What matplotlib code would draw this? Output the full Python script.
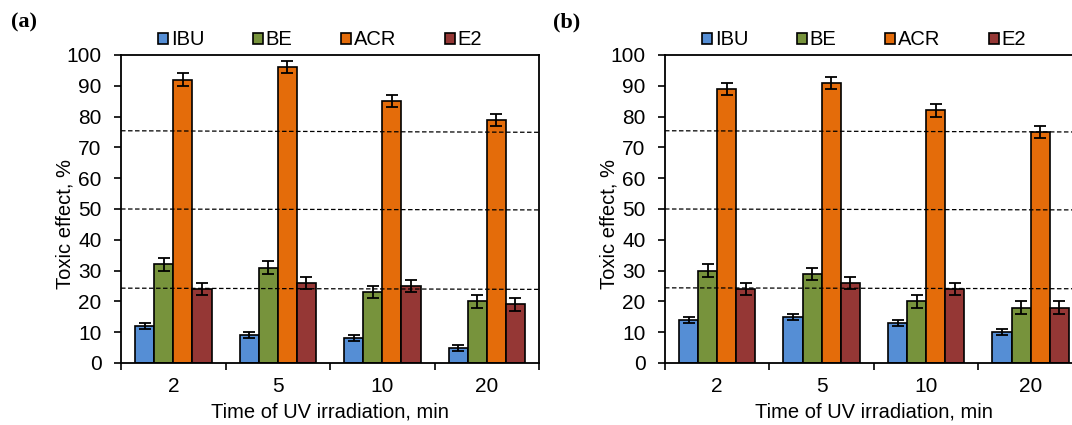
import numpy as np
import matplotlib
matplotlib.use('Agg')
import matplotlib.pyplot as plt
from matplotlib.patches import Patch

plt.rcParams['font.family'] = ['Liberation Sans', 'DejaVu Sans']

# ข้อมูลจากกราฟ
times = ['2', '5', '10', '20']
series = ['IBU', 'BE', 'ACR', 'E2']
colors = ['#558ED5', '#77933C', '#E46C0A', '#953735']

vals_a = {'IBU': [12, 9, 8, 5], 'BE': [32, 31, 23, 20],
          'ACR': [92, 96, 85, 79], 'E2': [24, 26, 25, 19]}
vals_b = {'IBU': [14, 15, 13, 10], 'BE': [30, 29, 20, 18],
          'ACR': [89, 91, 82, 75], 'E2': [24, 26, 24, 18]}
err_a = {'IBU': [1, 1, 1, 1], 'BE': [2, 2, 2, 2],
         'ACR': [2, 2, 2, 2], 'E2': [2, 2, 2, 2]}
err_b = {'IBU': [1, 1, 1, 1], 'BE': [2, 2, 2, 2],
         'ACR': [2, 2, 2, 2], 'E2': [2, 2, 2, 2]}

# เส้นประ (ค่าซ้าย, ค่าขวา)
dash_a = [(75.4, 74.9), (50.0, 49.7), (24.3, 23.9)]
dash_b = [(75.4, 75.0), (50.0, 49.7), (24.4, 24.1)]

fig = plt.figure(figsize=(10.72, 4.25), dpi=100)
ax1 = fig.add_axes([0.1129, 0.1459, 0.3899, 0.7247])
ax2 = fig.add_axes([0.6203, 0.1459, 0.3899, 0.7247])

x = np.arange(len(times))
w = 0.183


def draw(ax, vals, errs, dashes, label, lx):
    for i, s in enumerate(series):
        ax.bar(x + (i - 1.5) * w, vals[s], w, color=colors[i],
               edgecolor='black', linewidth=1.2, zorder=2,
               yerr=errs[s], capsize=4,
               error_kw=dict(elinewidth=1.3, capthick=1.3, ecolor='black'))
    # เส้นประแนวนอน (แกน x เป็นสัดส่วน, แกน y เป็นค่าข้อมูล)
    for y0, y1 in dashes:
        ax.plot([0, 1], [y0, y1], transform=ax.get_yaxis_transform(),
                color='black', linestyle=(0, (3.6, 2)), linewidth=0.9,
                zorder=3, clip_on=False)
    ax.set_xlim(-0.5, 3.5)
    ax.set_ylim(0, 100)
    ax.set_yticks(np.arange(0, 101, 10))
    ax.set_xticks(np.arange(-0.5, 4, 1))
    ax.set_xticklabels([])
    ax.set_xticks(x, minor=True)
    ax.set_xticklabels(times, minor=True)
    ax.tick_params(axis='x', which='minor', length=0, pad=10, labelsize=15)
    ax.tick_params(axis='x', which='major', length=5, width=1.2, direction='out')
    ax.tick_params(axis='y', length=5, width=1.2, pad=9, labelsize=15)
    for sp in ax.spines.values():
        sp.set_linewidth(1.3)
    ax.set_ylabel('Toxic effect, %', fontsize=14.5)
    ax.yaxis.set_label_coords(-0.112, 0.451)
    ax.set_xlabel('Time of UV irradiation, min', fontsize=14.5, labelpad=5)
    handles = [Patch(facecolor=c, edgecolor='black', linewidth=1.2) for c in colors]
    ax.legend(handles, series, loc='center', bbox_to_anchor=(0.476, 1.049),
              ncol=4, frameon=False, fontsize=14.5, handlelength=0.5,
              handleheight=0.5, handletextpad=0.15, columnspacing=2.4,
              borderpad=0.1)
    fig.text(lx, 0.948, label, fontsize=16, fontweight='bold',
             family='Liberation Serif', ha='center', va='center')


draw(ax1, vals_a, err_a, dash_a, '(a)', 0.022)
draw(ax2, vals_b, err_b, dash_b, '(b)', 0.529)

fig.savefig('out.png', dpi=100)
